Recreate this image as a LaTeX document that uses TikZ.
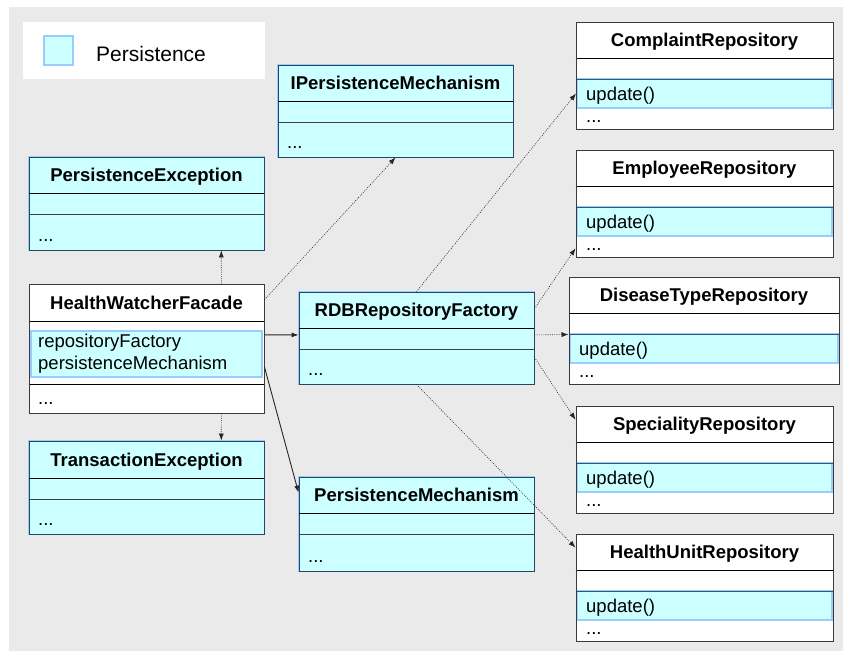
\documentclass[tikz,border=0pt]{standalone}
\usepackage{fontspec}
\setmainfont{Liberation Sans}
\usetikzlibrary{arrows.meta,calc,fit}

\definecolor{bgray}{HTML}{EAEAEA}
\definecolor{pcyan}{HTML}{CCFFFF}
\definecolor{pblue}{HTML}{99CCFF}
\definecolor{pnavy}{HTML}{2A4466}
\definecolor{wline}{HTML}{3A3A3A}
\definecolor{bandtop}{HTML}{34557A}

\tikzset{
  cbox/.style={fill=pcyan, draw=pnavy, line width=0.9pt, inner sep=0pt,
    preaction={draw=pblue, line width=2.4pt}},
  wbox/.style={fill=white, draw=wline, line width=1pt, inner sep=0pt},
  band/.style={fill=pcyan, draw=pblue, line width=2pt, inner sep=0pt},
  sepA/.style={draw=black, line width=1pt},
  sepB/.style={draw=black!75, line width=1pt},
  ttl/.style={anchor=base, inner sep=0pt, font=\bfseries\fontsize{18.5}{22}\selectfont},
  txt/.style={anchor=base west, inner sep=0pt, font=\fontsize{18.5}{22}\selectfont},
  dep/.style={draw=black!85, line width=0.6pt, dash pattern=on 0.9pt off 1.3pt,
    -{Latex[length=7pt,width=5pt]}},
  assoc/.style={draw=black!85, line width=0.9pt, -{Latex[length=7pt,width=5pt]}},
}

% class box with cyan fill: name, x1, y1, x2, y2, sep1, sep2, title
\newcommand{\cyanclass}[8]{%
  \node[cbox, fit={(#2,#3) (#4,#5)}] (#1) {};
  \draw[sepA] (#1.west |- 0,#6) -- (#1.east |- 0,#6);
  \draw[sepB] (#1.west |- 0,#7) -- (#1.east |- 0,#7);
  \node[ttl] (#1-t) at ({(#2+#4)/2},{(#3+#6)/2+6.8}) {#8};
  \node[txt] (#1-d) at ({#2+9},{#5-9}) {...};
}

% repository box with a highlighted update() compartment: name, x1, y1, x2, title
\newcommand{\repoclass}[5]{%
  \node[wbox, fit={(#2,#3) (#4,{#3+107})}] (#1) {};
  \node[band, fit={({#2+1},{#3+57}) ({#4-1},{#3+86})}] (#1-b) {};
  \draw[sepA] (#1.west |- 0,{#3+36}) -- (#1.east |- 0,{#3+36});
  \draw[draw=bandtop, line width=1pt] (#2,{#3+57}) -- (#4,{#3+57});
  \draw[draw=wline, line width=1pt] (#2,#3) rectangle (#4,{#3+107});
  \node[ttl] (#1-t) at ({(#2+#4)/2},{#3+18+6.8}) {#5};
  \node[txt] (#1-u) at ({#2+10},{#3+78}) {update()};
  \node[txt] (#1-d) at ({#2+10},{#3+100}) {...};
}

\begin{document}
\begin{tikzpicture}[x=1pt,y=-1pt]
  \useasboundingbox (0,0) rectangle (843,651);
  \fill[white] (0,0) rectangle (843,651);
  \fill[bgray] (9,7) rectangle (843,651);

  % legend
  \node[fill=white, inner sep=0pt, fit={(23,22) (265,79)}] (legend) {};
  \node[fill=pcyan, draw=pblue, line width=2.6pt, inner sep=0pt,
        fit={(44,36) (73,65)}] (legsw) {};
  \node[anchor=base west, inner sep=0pt, font=\fontsize{21}{25}\selectfont]
        (legtxt) at (96,61) {Persistence};

  % persistence classes
  \cyanclass{pe}{29}{157}{264}{250}{193}{214}{PersistenceException}
  \cyanclass{ipm}{278}{65}{513}{157}{101}{122}{IPersistenceMechanism}
  \cyanclass{te}{29}{441}{264}{534}{478}{499}{TransactionException}
  \cyanclass{rdb}{299}{292}{534}{384}{328}{349}{RDBRepositoryFactory}
  \cyanclass{pm}{299}{477}{534}{571}{513}{534}{PersistenceMechanism}

  % facade
  \node[wbox, fit={(29,284) (264,413)}] (hwf) {};
  \node[band, fit={(31,331) (262,377)}] (hwf-b) {};
  \draw[sepA] (hwf.west |- 0,321) -- (hwf.east |- 0,321);
  \draw[sepA] (hwf.west |- 0,384) -- (hwf.east |- 0,384);
  \draw[draw=wline, line width=1pt] (29,284) rectangle (264,413);
  \node[ttl] (hwf-t) at (146.5,309.5) {HealthWatcherFacade};
  \node[txt] (hwf-a1) at (38,347) {repositoryFactory};
  \node[txt] (hwf-a2) at (38,369) {persistenceMechanism};
  \node[txt] (hwf-d) at (38,404) {...};

  % repositories
  \repoclass{cr}{576}{22}{833}{ComplaintRepository}
  \repoclass{er}{576}{150}{833}{EmployeeRepository}
  \repoclass{dtr}{569}{277}{839}{DiseaseTypeRepository}
  \repoclass{sr}{576}{406}{833}{SpecialityRepository}
  \repoclass{hur}{576}{534}{833}{HealthUnitRepository}

  % dependencies and associations
  \draw[dep] ($(hwf.north west)!0.817!(hwf.north east)$) -- ($(pe.south west)!0.817!(pe.south east)$);
  \draw[dep] ($(hwf.south west)!0.817!(hwf.south east)$) -- ($(te.north west)!0.817!(te.north east)$);
  \draw[dep] ($(hwf.north east)!0.124!(hwf.south east)$) -- (ipm.south);
  \draw[assoc] ($(hwf.north east)!0.395!(hwf.south east)$) -- ($(rdb.north west)!0.467!(rdb.south west)$);
  \draw[assoc] ($(hwf.north east)!0.643!(hwf.south east)$) -- ($(pm.north west)!0.17!(pm.south west)$);
  \draw[dep] (rdb.north) -- (cr-b.west);
  \draw[dep] ($(rdb.north east)!0.185!(rdb.south east)$) -- ($(er.north west)!0.915!(er.south west)$);
  \draw[dep] ($(rdb.north east)!0.467!(rdb.south east)$) -- ($(dtr.north west)!0.537!(dtr.south west)$);
  \draw[dep] ($(rdb.north east)!0.707!(rdb.south east)$) -- ($(sr.north west)!0.132!(sr.south west)$);
  \draw[dep] (rdb.south) -- ($(hur.north west)!0.131!(hur.south west)$);
\end{tikzpicture}
\end{document}
